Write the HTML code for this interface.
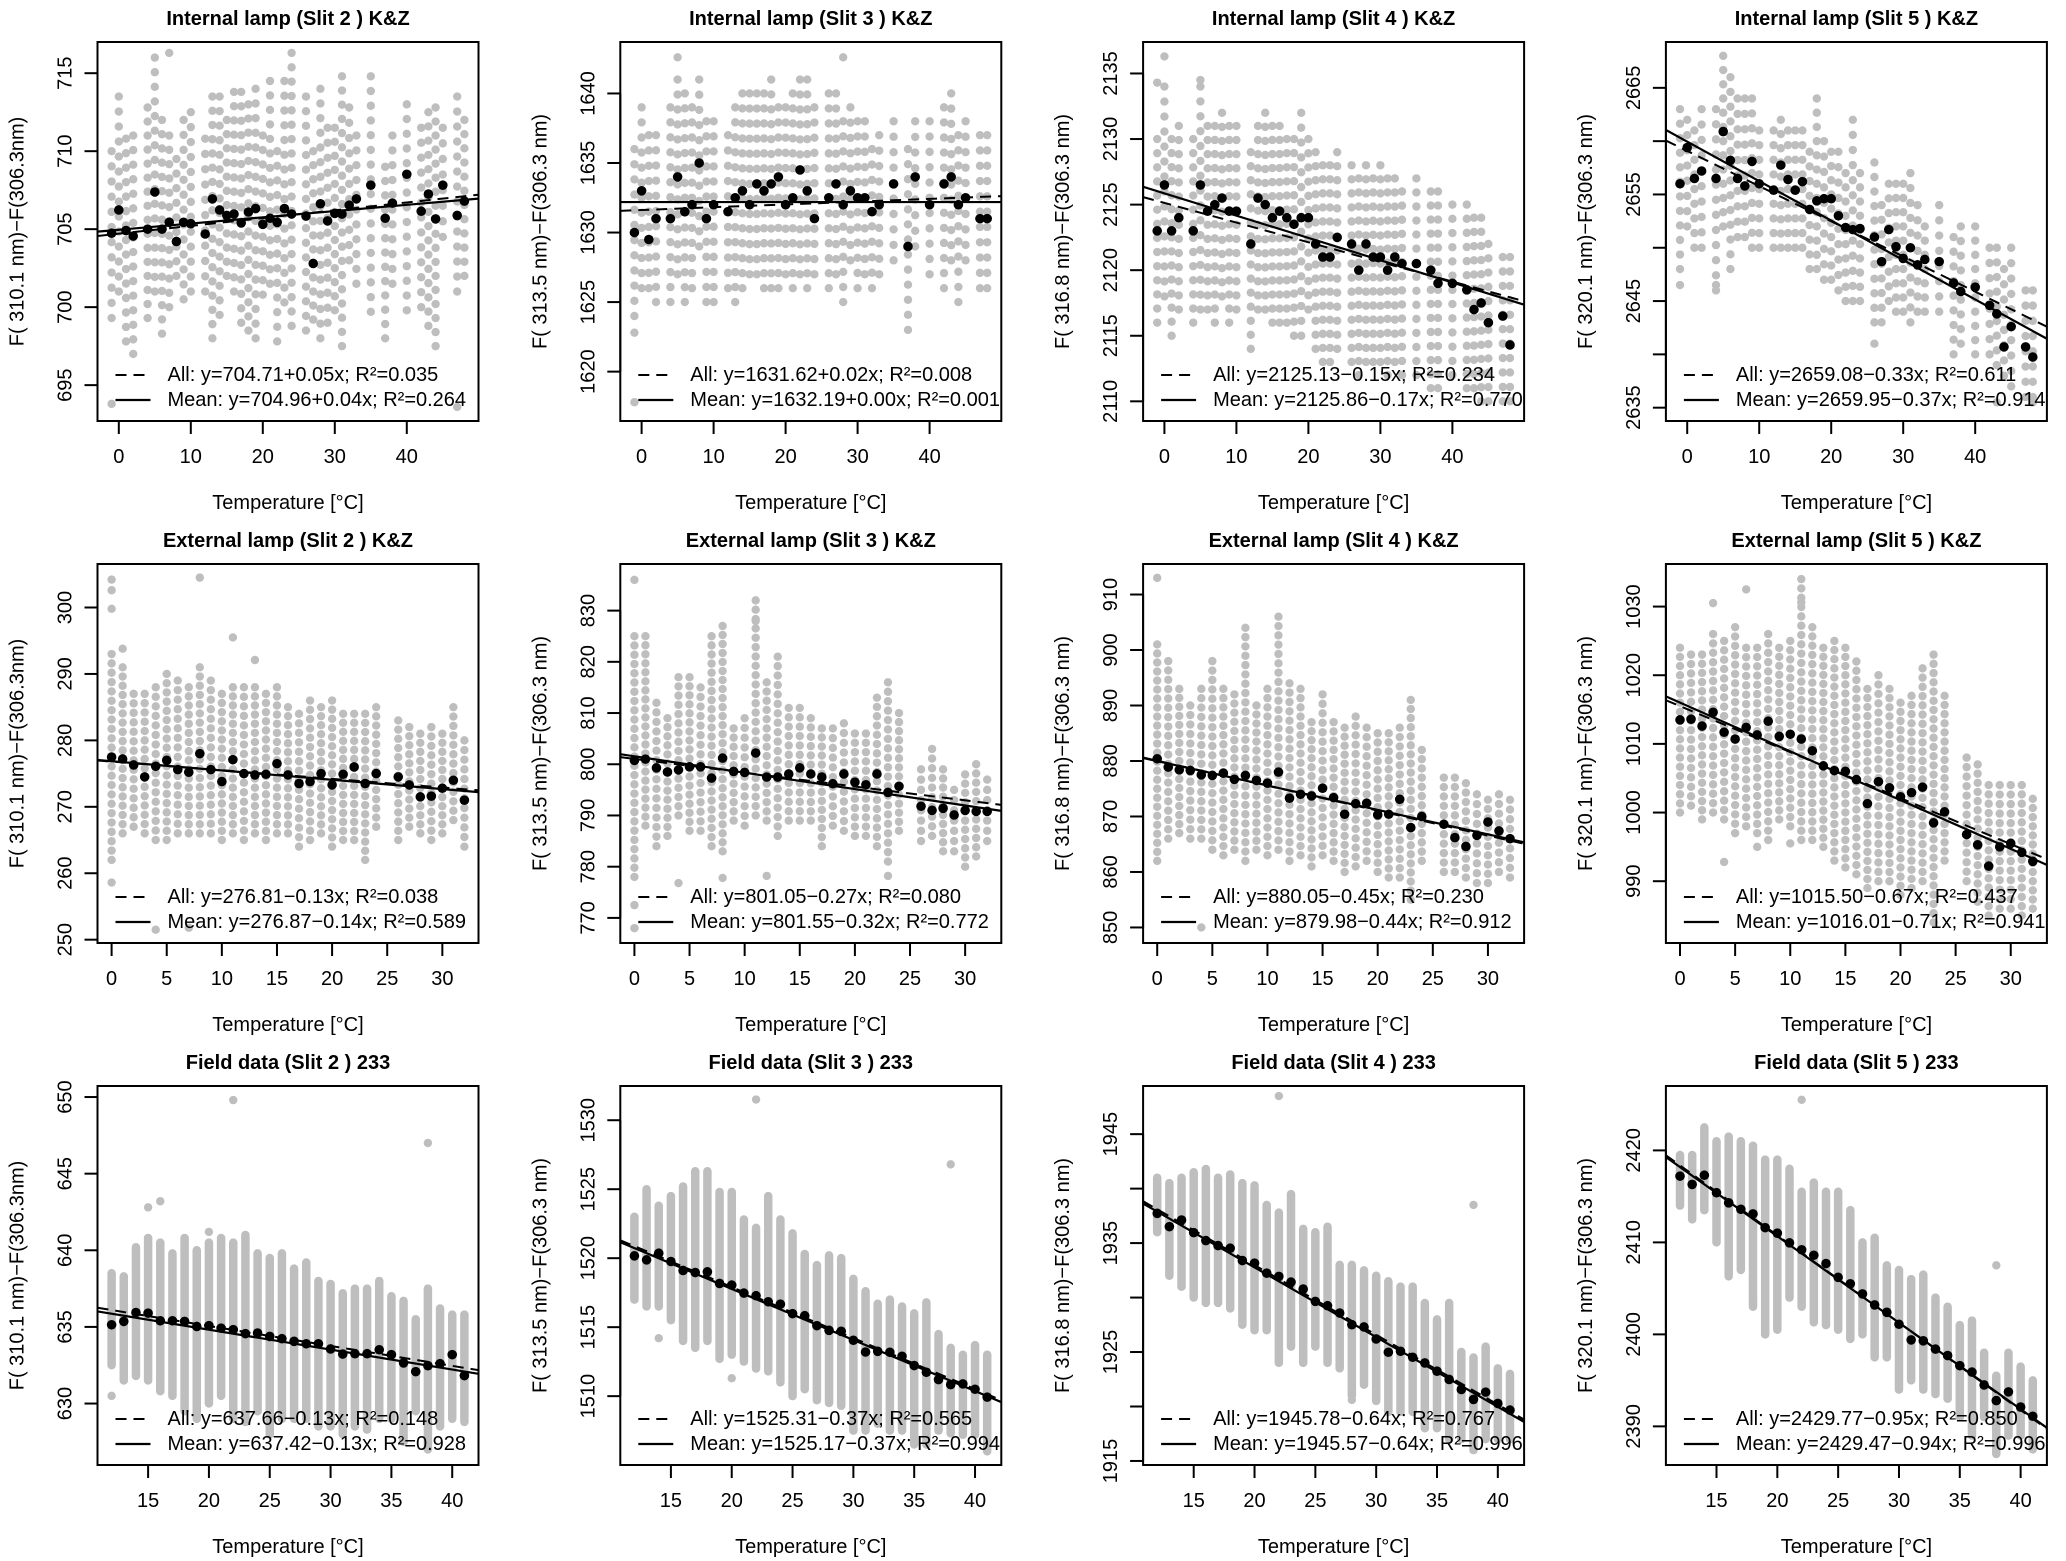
<!DOCTYPE html>
<html><head><meta charset="utf-8"><style>
html,body{margin:0;padding:0;background:#fff}
svg{display:block}
text{font-family:"Liberation Sans",Arial,sans-serif;fill:#000}
</style></head><body>
<svg id="chart" xmlns="http://www.w3.org/2000/svg" width="2066" height="1561" viewBox="0 0 2066 1561"></svg>
<script>
const T1=[-1,0,1,2,4,5,6,7,8,9,10,12,13,14,15,16,17,18,19,20,21,22,23,24,26,27,28,29,30,31,32,33,35,37,38,40,42,43,44,45,47,48];
const T2=[0,1,2,3,4,5,6,7,8,9,10,11,12,13,14,15,16,17,18,19,20,21,22,23,24,26,27,28,29,30,31,32];
const T3=[12,13,14,15,16,17,18,19,20,21,22,23,24,25,26,27,28,29,30,31,32,33,34,35,36,37,38,39,40,41];

const p1Mean=[704.74,706.23,704.91,704.56,705.0,707.38,705.0,705.44,704.21,705.44,705.35,704.69,706.94,706.23,705.88,705.97,705.4,706.1,706.32,705.31,705.7,705.44,706.32,705.97,705.84,702.8,706.63,705.53,706.01,705.97,706.54,706.94,707.82,705.7,706.67,708.52,706.15,707.25,705.66,707.82,705.88,706.8];
const p1Lo=[699.3,701,697.8,697,699.3,701,698.3,700,702,700.5,701,701,698,699.5,702,701,699,698.5,698,700.8,701.5,697.8,700.3,698.8,698.5,699.2,698,699,699.8,697.5,703,701.5,699.7,698,701.5,699.8,700,698.8,697.5,704.5,701,702];
const p1Hi=[710,713.5,710.8,711,712.8,716,712,711,709.5,712,712.5,710.8,713.5,713.5,712,713.8,713.8,713,714,711,714.5,710,714.5,716.3,713.5,710,714,711.5,711.5,714.8,712.8,711,714.8,709,711,713,711.5,712.5,712.8,711.5,713.5,712];
const p1Out=[[-1,693.8],[47,693.6],[7,716.3]];
const p1All=[704.71,0.05], p1Fit=[704.96,0.04];

const p2Mean=[1630,1633,1629.5,1631,1631,1634,1631.5,1632,1635,1631,1632,1631.5,1632.5,1633,1632,1633.5,1633,1633.5,1634,1632,1632.5,1634.5,1633,1631,1632.5,1633.5,1632,1633,1632.5,1632.5,1631.5,1632,1633.5,1629,1634,1632,1633.5,1634,1632,1632.5,1631,1631];
const p2Lo=[1624,1626,1626,1625,1625,1627,1625,1626,1629,1625,1625,1626,1625,1626,1627,1627,1626,1626,1626,1627,1626,1627,1626,1627,1626,1627,1625,1628,1626,1627,1626,1627,1628,1623,1629,1627,1626,1628,1625,1628,1626,1626];
const p2Hi=[1636,1639,1637,1637,1639,1641,1640,1639,1641,1638,1638,1637,1639,1640,1640,1640,1640,1641,1639,1639,1640,1641,1641,1639,1640,1640,1638,1639,1638,1638,1636,1637,1638,1636,1638,1638,1639,1640,1637,1638,1637,1637];
const p2Out=[[-1,1617.8],[5,1642.6],[-1,1622.8],[28,1642.6]];
const p2All=[1631.62,0.02], p2Fit=[1632.19,0.00];

const p3Mean=[2123,2126.5,2123,2124,2123,2126.5,2124.5,2125,2125.5,2124.5,2124.5,2122,2125.5,2125,2124,2124.5,2124,2123.5,2124,2124,2122,2121,2121,2122.5,2122,2120,2122,2121,2121,2120,2121,2120.5,2120.5,2120,2119,2119,2118.5,2117,2117.5,2116,2116.5,2114.3];
const p3Lo=[2116,2118,2115,2117,2116,2117,2117,2116,2118,2116,2117,2114,2117,2117,2116,2116,2116,2115,2115,2117,2114,2113,2113,2114,2113,2112,2113,2113,2113,2112,2113,2112,2112,2111,2111,2112,2111,2111,2110,2110,2110,2110];
const p3Hi=[2130,2134,2130,2131,2130,2134,2131,2131,2132,2131,2131,2129,2131,2132,2131,2131,2130,2130,2132,2130,2129,2128,2128,2129,2128,2127,2128,2127,2128,2127,2127,2126,2127,2126,2126,2125,2125,2124,2124,2122,2121,2121];
const p3Out=[[0,2136.3],[5,2134.5],[-1,2134.3]];
const p3All=[2125.13,-0.15], p3Fit=[2125.86,-0.17];

const p4Mean=[2656.0,2659.4,2656.5,2657.2,2656.5,2660.9,2658.2,2656.5,2655.8,2658.1,2656.0,2655.4,2657.75,2656.4,2655.4,2656.2,2653.6,2654.4,2654.6,2654.6,2653.0,2651.9,2651.7,2651.8,2651.0,2648.7,2651.7,2650.1,2649.0,2650.0,2648.4,2648.9,2648.7,2646.7,2645.9,2646.3,2644.6,2643.8,2640.7,2642.6,2640.7,2639.75];
const p4Lo=[2648,2652,2650,2650,2646,2652,2648,2651,2651,2650,2650,2650,2650,2650,2650,2650,2648,2648,2647,2647,2646,2645,2645,2645,2643,2643,2645,2644,2644,2643,2644,2644,2644,2640,2641,2640,2640,2639,2638,2637,2636,2636];
const p4Hi=[2663,2662,2661,2663,2663,2668,2666,2664,2664,2664,2661,2661,2662,2661,2661,2661,2659,2664,2660,2659,2659,2657,2662,2657,2658,2654,2656,2656,2656,2657,2654,2652,2654,2651,2652,2652,2650,2650,2648,2650,2646,2646];
const p4Out=[[-1,2646.5],[4,2646.5],[26,2641],[43,2635.5],[48,2635.5]];
const p4All=[2659.08,-0.33], p4Fit=[2659.95,-0.37];

const p5Mean=[277.5,277.2,276.3,274.5,276.1,277,275.6,275.2,278,275.6,273.8,277.1,275,274.8,274.9,276.5,274.8,273.5,273.8,275,273.3,274.9,276,273.5,275,274.5,273.3,271.5,271.6,272.8,274,271];
const p5Lo=[262,266,267,266,265,265,266,266,266,266,265,266,265,266,265,266,266,264,265,266,264,265,265,262,267,265,267,266,265,266,268,264];
const p5Hi=[293,291,287,287,288,290,289,288,291,289,287,288,288,288,287,288,285,284,286,285,286,284,284,284,285,283,282,281,282,281,285,280];
const p5Out=[[0,304.2],[0,302.6],[0,299.8],[8,304.5],[11,295.5],[0,258.6],[4,251.5],[7,251.8],[1,293.8],[13,292.1]];
const p5All=[276.81,-0.13], p5Fit=[276.87,-0.14];

const p6Mean=[800.75,801.0,799.3,798.5,798.9,799.5,799.5,797.3,801.2,798.6,798.4,802.2,797.5,797.5,798.1,799.3,798.1,797.5,796.2,798.1,796.5,796.0,798.1,794.5,795.7,791.8,791.0,791.4,790.1,791.0,790.8,790.8];
const p6Lo=[778,788,784,786,790,787,787,784,783,789,788,790,789,786,789,789,789,784,788,787,786,786,784,781,787,785,786,783,783,780,782,785];
const p6Hi=[825,825,812,809,817,817,815,825,827,807,809,832,816,821,811,811,809,807,807,808,806,806,813,816,810,799,803,799,795,798,800,797];
const p6Out=[[0,836],[0,768],[0,772.5],[4,776.8],[8,777.8],[12,778.2],[23,778.2],[11,828]];
const p6All=[801.05,-0.27], p6Fit=[801.55,-0.32];

const p7Mean=[880.4,878.9,878.4,878.3,877.5,877.4,877.8,876.7,877.4,876.5,876,878,873.3,874,873.7,875.1,873.4,870.4,872.3,872.4,870.3,870.4,873.1,868,870,868.6,866.2,864.6,866.6,869,867.4,866];
const p7Lo=[862,866,867,866,866,864,863,864,862,864,863,864,862,863,861,863,862,860,861,862,860,859,859,855,862,860,860,859,858,858,860,859];
const p7Hi=[901,898,893,890,893,898,893,892,904,890,893,906,894,893,887,892,887,886,888,886,885,885,886,891,882,877,877,876,874,873,874,873];
const p7Out=[[0,913],[4,850]];
const p7All=[880.05,-0.45], p7Fit=[879.98,-0.44];

const p8Mean=[1013.5,1013.6,1012.6,1014.6,1011.7,1010.7,1012.4,1011.3,1013.3,1011.1,1011.4,1010.7,1009,1006.8,1006.1,1006,1004.8,1001.3,1004.5,1003.6,1002.3,1002.9,1003.7,998.5,1000.1,996.8,995.3,992.2,995,995.5,994.2,992.9];
const p8Lo=[1000,1001,999,1000,999,997,998,997,996,999,998,996,996,995,993,992,991,989,990,990,988,989,990,984,993,990,987,985,986,986,985,986];
const p8Hi=[1024,1023,1023,1026,1025,1027,1024,1024,1026,1024,1025,1034,1027,1024,1025,1024,1022,1018,1020,1018,1016,1017,1021,1023,1017,1008,1007,1004,1004,1004,1004,1002];
const p8Out=[[3,1030.5],[6,1032.5],[11,1030.6],[4,992.8],[10,995.5],[7,995]];
const p8All=[1015.50,-0.67], p8Fit=[1016.01,-0.71];

const p9Mean=[635.14,635.36,635.94,635.9,635.4,635.4,635.36,635.03,635.08,634.92,634.82,634.56,634.6,634.38,634.23,634.06,633.9,633.9,633.56,633.23,633.25,633.25,633.51,633.19,632.65,632.08,632.47,632.6,633.19,631.82];
const p9Lo=[632.5,631.5,631.8,631.5,630.8,630.5,629.5,629,630,630.5,629,628.8,629.5,628,629,629,629,628.5,628.5,628,628.5,628.3,629,629,627.5,629.5,627,628.5,629,628.8];
const p9Hi=[638.5,638.3,640.2,640.8,640.5,639.8,640.8,640,640.5,640.8,640.5,641,639.8,639.5,639.8,638.8,639.2,638,637.8,637.2,637.5,637.5,638,637,636.7,635.5,637.5,636.2,635.8,635.8];
const p9Out=[[22,649.8],[38,647],[16,643.2],[15,642.8],[20,641.2],[12,630.5]];
const p9All=[637.66,-0.13], p9Fit=[637.42,-0.13];

const p10Mean=[1520.17,1519.88,1520.36,1519.76,1519.11,1518.96,1519.01,1518.17,1518.05,1517.47,1517.28,1516.84,1516.67,1515.98,1515.83,1515.11,1514.77,1514.7,1514.05,1513.2,1513.25,1513.18,1512.89,1512.22,1511.73,1511.2,1510.84,1510.89,1510.5,1509.93];
const p10Lo=[1517,1516.5,1516.5,1515.5,1514,1513.5,1514,1512.7,1513,1512.5,1512,1511.8,1511,1510,1510.5,1509.7,1509.5,1509.3,1507.5,1507.5,1508,1507.5,1507.5,1506.5,1506.5,1507.5,1507.3,1507.2,1507.2,1506];
const p10Hi=[1523,1525,1523.8,1524.5,1525.2,1526.3,1526.3,1524.8,1524.8,1522.8,1522.2,1524.5,1522.8,1521.8,1520.3,1519.5,1520.2,1520,1518.5,1517.6,1516.7,1517,1516.5,1516,1516.8,1514.5,1513.5,1513,1513.7,1513];
const p10Out=[[22,1531.5],[38,1526.8],[14,1514.2],[20,1511.3]];
const p10All=[1525.31,-0.37], p10Fit=[1525.17,-0.37];

const p11Mean=[1937.73,1936.51,1937.12,1935.96,1935.23,1934.77,1934.53,1933.4,1933.16,1932.24,1931.94,1931.42,1930.78,1929.65,1929.25,1928.58,1927.51,1927.3,1926.2,1924.98,1925.07,1924.52,1924.0,1923.24,1922.48,1921.56,1920.65,1921.32,1920.28,1919.67];
const p11Lo=[1936,1932,1931,1930,1929.5,1929.5,1929,1927.5,1927,1927,1924,1925.5,1924,1925.5,1924,1923.5,1921,1922,1920.5,1919.5,1919.5,1919.5,1918,1918,1917,1917,1916,1917,1917,1917];
const p11Hi=[1941,1940.5,1941,1941.5,1941.8,1941,1941.3,1940.5,1940.3,1938.5,1937.8,1939.5,1936.3,1936,1936.5,1933,1933,1932.5,1932,1931.5,1931,1931,1929.5,1928,1929.5,1925,1924.5,1925.5,1923.5,1923];
const p11Out=[[22,1948.5],[38,1938.5],[14,1931],[15,1930.3],[28,1920.6]];
const p11All=[1945.78,-0.64], p11Fit=[1945.57,-0.64];

const p12Mean=[2417.2,2416.3,2417.3,2415.4,2414.3,2413.6,2413.1,2411.6,2411.0,2409.95,2409.2,2408.6,2407.7,2406.2,2405.5,2404.4,2403.2,2402.4,2401.1,2399.4,2399.3,2398.4,2397.7,2396.6,2395.9,2394.5,2392.8,2393.75,2392.1,2391.1];
const p12Lo=[2414,2412.5,2413.5,2410,2406.5,2407,2403,2400,2400.5,2404,2403,2401.5,2401,2400.5,2399.5,2400,2397.5,2397.5,2394,2395,2394,2393.5,2393,2391,2389,2391,2387,2389,2389,2387.5];
const p12Hi=[2419.5,2419.5,2422.5,2421,2421.5,2421,2420.5,2419,2419,2418,2415.5,2416.5,2415.5,2415.5,2413.5,2410,2410.5,2407.5,2407,2406,2406.5,2404,2403,2401,2401.5,2398,2395.5,2398,2396.5,2395];
const p12Out=[[22,2425.5],[38,2407.5],[16,2406.3],[18,2403.3],[19,2400],[20,2400.7],[23,2401.3]];
const p12All=[2429.77,-0.95], p12Fit=[2429.47,-0.94];

const xt1=[0,10,20,30,40], xt2=[0,5,10,15,20,25,30], xt3=[15,20,25,30,35,40];

const lab2="F( 310.1 nm)\u2212F(306.3nm)", lab3="F( 313.5 nm)\u2212F(306.3 nm)", lab4="F( 316.8 nm)\u2212F(306.3 nm)", lab5="F( 320.1 nm)\u2212F(306.3 nm)";

const panels=[
 {row:0,col:0,t:T1,m:p1Mean,lo:p1Lo,hi:p1Hi,out:p1Out,all:p1All,fit:p1Fit,xr:[-2.96,49.96],yr:[692.7,717.0],yt:[695,700,705,710,715],yl:[695,700,705,710,715],xt:xt1,title:"Internal lamp (Slit 2 ) K&Z",yla:lab2,a:"All: y=704.71+0.05x; R\u00b2=0.035",f:"Mean: y=704.96+0.04x; R\u00b2=0.264",st:14},
 {row:0,col:1,t:T1,m:p2Mean,lo:p2Lo,hi:p2Hi,out:p2Out,all:p2All,fit:p2Fit,xr:[-2.96,49.96],yr:[1616.45,1643.7],yt:[1620,1625,1630,1635,1640],yl:[1620,1625,1630,1635,1640],xt:xt1,title:"Internal lamp (Slit 3 ) K&Z",yla:lab3,a:"All: y=1631.62+0.02x; R\u00b2=0.008",f:"Mean: y=1632.19+0.00x; R\u00b2=0.001",st:14},
 {row:0,col:2,t:T1,m:p3Mean,lo:p3Lo,hi:p3Hi,out:p3Out,all:p3All,fit:p3Fit,xr:[-2.96,49.96],yr:[2108.5,2137.4],yt:[2110,2115,2120,2125,2130,2135],yl:[2110,2115,2120,2125,2130,2135],xt:xt1,title:"Internal lamp (Slit 4 ) K&Z",yla:lab4,a:"All: y=2125.13\u22120.15x; R\u00b2=0.234",f:"Mean: y=2125.86\u22120.17x; R\u00b2=0.770",st:14},
 {row:0,col:3,t:T1,m:p4Mean,lo:p4Lo,hi:p4Hi,out:p4Out,all:p4All,fit:p4Fit,xr:[-2.96,49.96],yr:[2633.75,2669.3],yt:[2635,2640,2645,2650,2655,2660,2665],yl:[2635,2645,2655,2665],xt:xt1,title:"Internal lamp (Slit 5 ) K&Z",yla:lab5,a:"All: y=2659.08\u22120.33x; R\u00b2=0.611",f:"Mean: y=2659.95\u22120.37x; R\u00b2=0.914",st:14},
 {row:1,col:0,t:T2,m:p5Mean,lo:p5Lo,hi:p5Hi,out:p5Out,all:p5All,fit:p5Fit,xr:[-1.28,33.28],yr:[249.5,306.55],yt:[250,260,270,280,290,300],yl:[250,260,270,280,290,300],xt:xt2,title:"External lamp (Slit 2 ) K&Z",yla:lab2,a:"All: y=276.81\u22120.13x; R\u00b2=0.038",f:"Mean: y=276.87\u22120.14x; R\u00b2=0.589",st:9},
 {row:1,col:1,t:T2,m:p6Mean,lo:p6Lo,hi:p6Hi,out:p6Out,all:p6All,fit:p6Fit,xr:[-1.28,33.28],yr:[765.1,839.1],yt:[770,780,790,800,810,820,830],yl:[770,780,790,800,810,820,830],xt:xt2,title:"External lamp (Slit 3 ) K&Z",yla:lab3,a:"All: y=801.05\u22120.27x; R\u00b2=0.080",f:"Mean: y=801.55\u22120.32x; R\u00b2=0.772",st:9},
 {row:1,col:2,t:T2,m:p7Mean,lo:p7Lo,hi:p7Hi,out:p7Out,all:p7All,fit:p7Fit,xr:[-1.28,33.28],yr:[847.2,915.5],yt:[850,860,870,880,890,900,910],yl:[850,860,870,880,890,900,910],xt:xt2,title:"External lamp (Slit 4 ) K&Z",yla:lab4,a:"All: y=880.05\u22120.45x; R\u00b2=0.230",f:"Mean: y=879.98\u22120.44x; R\u00b2=0.912",st:9},
 {row:1,col:3,t:T2,m:p8Mean,lo:p8Lo,hi:p8Hi,out:p8Out,all:p8All,fit:p8Fit,xr:[-1.28,33.28],yr:[981.0,1036.2],yt:[990,1000,1010,1020,1030],yl:[990,1000,1010,1020,1030],xt:xt2,title:"External lamp (Slit 5 ) K&Z",yla:lab5,a:"All: y=1015.50\u22120.67x; R\u00b2=0.437",f:"Mean: y=1016.01\u22120.71x; R\u00b2=0.941",st:9},
 {row:2,col:0,t:T3,m:p9Mean,lo:p9Lo,hi:p9Hi,out:p9Out,all:p9All,fit:p9Fit,xr:[10.84,42.16],yr:[625.99,650.72],yt:[630,635,640,645,650],yl:[630,635,640,645,650],xt:xt3,title:"Field data (Slit 2 ) 233",yla:lab2,a:"All: y=637.66\u22120.13x; R\u00b2=0.148",f:"Mean: y=637.42\u22120.13x; R\u00b2=0.928",st:0},
 {row:2,col:1,t:T3,m:p10Mean,lo:p10Lo,hi:p10Hi,out:p10Out,all:p10All,fit:p10Fit,xr:[10.84,42.16],yr:[1505.01,1532.48],yt:[1510,1515,1520,1525,1530],yl:[1510,1515,1520,1525,1530],xt:xt3,title:"Field data (Slit 3 ) 233",yla:lab3,a:"All: y=1525.31\u22120.37x; R\u00b2=0.565",f:"Mean: y=1525.17\u22120.37x; R\u00b2=0.994",st:0},
 {row:2,col:2,t:T3,m:p11Mean,lo:p11Lo,hi:p11Hi,out:p11Out,all:p11All,fit:p11Fit,xr:[10.84,42.16],yr:[1914.63,1949.42],yt:[1915,1920,1925,1930,1935,1940,1945],yl:[1915,1925,1935,1945],xt:xt3,title:"Field data (Slit 4 ) 233",yla:lab4,a:"All: y=1945.78\u22120.64x; R\u00b2=0.767",f:"Mean: y=1945.57\u22120.64x; R\u00b2=0.996",st:0},
 {row:2,col:3,t:T3,m:p12Mean,lo:p12Lo,hi:p12Hi,out:p12Out,all:p12All,fit:p12Fit,xr:[10.84,42.16],yr:[2385.8,2427.0],yt:[2390,2400,2410,2420],yl:[2390,2400,2410,2420],xt:xt3,title:"Field data (Slit 5 ) 233",yla:lab5,a:"All: y=2429.77\u22120.95x; R\u00b2=0.850",f:"Mean: y=2429.47\u22120.94x; R\u00b2=0.996",st:0}
];

const NS="http://www.w3.org/2000/svg";
const svg=document.getElementById('chart');
function mk(tag,attrs,parent){const e=document.createElementNS(NS,tag);for(const k in attrs)e.setAttribute(k,attrs[k]);(parent||svg).appendChild(e);return e;}
const W=381,H=379,GRAY="#bebebe";

panels.forEach((p,i)=>{
  const L=97.5+p.col*522.8, T=42+p.row*522, R=L+W, B=T+H;
  const sx=v=>L+(v-p.xr[0])/(p.xr[1]-p.xr[0])*W;
  const sy=v=>B-(v-p.yr[0])/(p.yr[1]-p.yr[0])*H;
  const g=mk('g',{});
  
  
  const cp=mk('clipPath',{id:'c'+i},g);
  mk('rect',{x:L,y:T,width:W,height:H},cp);
  const t=mk('text',{x:L+W/2,y:T-23,'text-anchor':'middle','dominant-baseline':'central','font-size':'20','font-weight':'bold'},g);
  t.textContent=p.title;
  
  
  const pg=mk('g',{'clip-path':'url(#c'+i+')'},g);
  
  
  p.t.forEach((tv,k)=>{
    const x=sx(tv), y1=sy(p.hi[k]), y2=sy(p.lo[k]);
    if(p.st===0){
      const ln=mk('line',{x1:x,y1:y1,x2:x,y2:y2,stroke:GRAY,'stroke-width':8.5,'stroke-linecap':'round'},pg);
      
      
    } else {
      const n=Math.max(1,Math.floor((y2-y1)/p.st));
      for(let j=0;j<=n;j++){
        const c=mk('circle',{cx:x,cy:y1+(y2-y1)*j/n,r:4.2,fill:GRAY},pg);
        
        
      }
    }
  });
  p.out.forEach(o=>{
    const c=mk('circle',{cx:sx(o[0]),cy:sy(o[1]),r:4.2,fill:GRAY},pg);
    
    
  });
  const lx0=p.xr[0], lx1=p.xr[1];
  const la=mk('line',{x1:sx(lx0),y1:sy(p.all[0]+p.all[1]*lx0),x2:sx(lx1),y2:sy(p.all[0]+p.all[1]*lx1),stroke:'#000','stroke-width':2,'stroke-dasharray':'11,7','clip-path':'url(#c'+i+')'},g);
  
  
  const lf=mk('line',{x1:sx(lx0),y1:sy(p.fit[0]+p.fit[1]*lx0),x2:sx(lx1),y2:sy(p.fit[0]+p.fit[1]*lx1),stroke:'#000','stroke-width':2.2,'clip-path':'url(#c'+i+')'},g);
  
  
  p.t.forEach((tv,k)=>{
    const c=mk('circle',{cx:sx(tv),cy:sy(p.m[k]),r:4.8,fill:'#000'},g);
    
    
  });
  const bx=mk('rect',{x:L,y:T,width:W,height:H,fill:'none',stroke:'#000','stroke-width':2},g);
  
  
  const xa=mk('g',{},g);
  
  
  mk('line',{x1:sx(p.xt[0]),y1:B,x2:sx(p.xt[p.xt.length-1]),y2:B,stroke:'#000','stroke-width':2},xa);
  p.xt.forEach(v=>{
    mk('line',{x1:sx(v),y1:B,x2:sx(v),y2:B+13,stroke:'#000','stroke-width':2},xa);
    const tl=mk('text',{x:sx(v),y:B+36,'text-anchor':'middle','dominant-baseline':'central','font-size':'20'},xa);
    tl.textContent=v;
    
    
  });
  const xt=mk('text',{x:L+W/2,y:B+82,'text-anchor':'middle','dominant-baseline':'central','font-size':'20'},g);
  xt.textContent="Temperature [\u00b0C]";
  
  
  const ya=mk('g',{},g);
  
  
  mk('line',{x1:L,y1:sy(p.yt[0]),x2:L,y2:sy(p.yt[p.yt.length-1]),stroke:'#000','stroke-width':2},ya);
  p.yt.forEach(v=>{mk('line',{x1:L-13,y1:sy(v),x2:L,y2:sy(v),stroke:'#000','stroke-width':2},ya);});
  p.yl.forEach(v=>{
    const tl=mk('text',{x:0,y:0,'text-anchor':'middle','dominant-baseline':'central','font-size':'20',transform:'translate('+(L-32)+','+sy(v)+') rotate(-90)'},ya);
    tl.textContent=v;
    
    
  });
  const yt=mk('text',{x:0,y:0,'text-anchor':'middle','dominant-baseline':'central','font-size':'20',transform:'translate('+(L-80)+','+(T+H/2)+') rotate(-90)'},g);
  yt.textContent=p.yla;
  
  
  const lg=mk('g',{},g);
  
  
  const ly1=T+333, ly2=T+358;
  mk('line',{x1:L+18,y1:ly1,x2:L+53,y2:ly1,stroke:'#000','stroke-width':2,'stroke-dasharray':'11,7'},lg);
  mk('line',{x1:L+18,y1:ly2,x2:L+53,y2:ly2,stroke:'#000','stroke-width':2.2},lg);
  const e1=mk('text',{x:L+70,y:ly1,'dominant-baseline':'central','font-size':'20'},lg);
  e1.textContent=p.a;
  
  
  const e2=mk('text',{x:L+70,y:ly2,'dominant-baseline':'central','font-size':'20'},lg);
  e2.textContent=p.f;
  
  
});
</script>
</body></html>
